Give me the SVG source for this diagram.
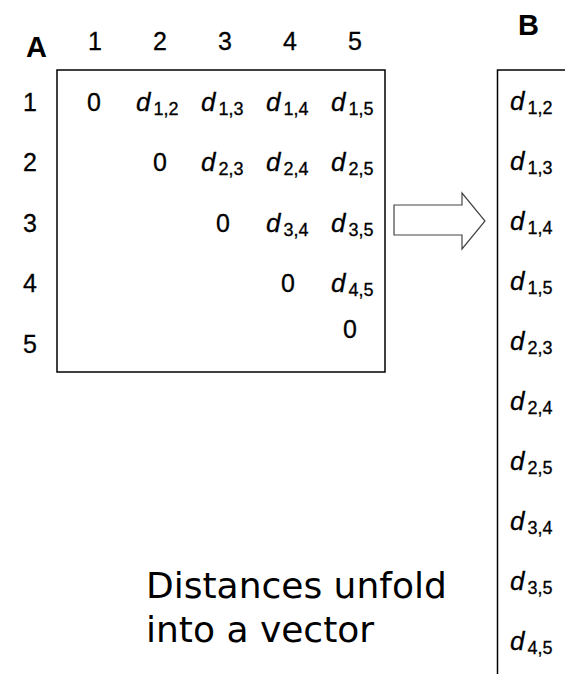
<svg xmlns="http://www.w3.org/2000/svg" width="565" height="674" viewBox="0 0 565 674">
<style>
.bg{fill:#fff}
.box{fill:none;stroke:#000;stroke-width:1.5}
.lbl{font-family:"Liberation Sans",Arial,sans-serif;font-size:25px;fill:#000;stroke:#000;stroke-width:0.3;text-anchor:middle}
.hd{font-family:"Liberation Sans",Arial,sans-serif;font-size:29px;font-weight:bold;fill:#000}
.d{font-family:"Liberation Sans",Arial,sans-serif;font-size:26px;fill:#000;stroke:#000;stroke-width:0.3}
.d .v{font-style:italic}
.d .s{font-size:18px}
.cap{font-family:"DejaVu Sans",Verdana,sans-serif;font-size:36px;fill:#000}
.arrow{fill:#fff;stroke:#444;stroke-width:1.2}
</style>
<rect class="bg" width="565" height="674"/>
<g id="matrixA">
<text class="hd" x="26" y="57">A</text>
<g class="lbl">
<text x="95" y="50">1</text><text x="160" y="50">2</text><text x="225" y="50">3</text><text x="290" y="50">4</text><text x="355" y="50">5</text>
<text x="30" y="111">1</text><text x="30" y="171">2</text><text x="30" y="232">3</text><text x="30" y="292">4</text><text x="30" y="353">5</text>
<text x="94" y="111">0</text><text x="160" y="171">0</text><text x="223" y="232">0</text><text x="288" y="292">0</text><text x="350" y="338">0</text>
</g>
<rect class="box" x="57" y="70" width="328" height="302"/>
<g class="d">
<text x="136" y="111"><tspan class="v">d</tspan><tspan class="s" dx="3" dy="4">1,2</tspan></text>
<text x="201" y="111"><tspan class="v">d</tspan><tspan class="s" dx="3" dy="4">1,3</tspan></text>
<text x="266" y="111"><tspan class="v">d</tspan><tspan class="s" dx="3" dy="4">1,4</tspan></text>
<text x="331" y="111"><tspan class="v">d</tspan><tspan class="s" dx="3" dy="4">1,5</tspan></text>
<text x="201" y="171"><tspan class="v">d</tspan><tspan class="s" dx="3" dy="4">2,3</tspan></text>
<text x="266" y="171"><tspan class="v">d</tspan><tspan class="s" dx="3" dy="4">2,4</tspan></text>
<text x="331" y="171"><tspan class="v">d</tspan><tspan class="s" dx="3" dy="4">2,5</tspan></text>
<text x="266" y="232"><tspan class="v">d</tspan><tspan class="s" dx="3" dy="4">3,4</tspan></text>
<text x="331" y="232"><tspan class="v">d</tspan><tspan class="s" dx="3" dy="4">3,5</tspan></text>
<text x="331" y="292"><tspan class="v">d</tspan><tspan class="s" dx="3" dy="4">4,5</tspan></text>
</g>
</g>
<g id="arrow">
<path class="arrow" d="M394,205 H462 V193 L485,221 L462,249 V235 H394 Z"/>
</g>
<g id="vectorB">
<text class="hd" x="518" y="35">B</text>
<path class="box" d="M565,70 H497.5 V674"/>
<g class="d">
<text x="510" y="110"><tspan class="v">d</tspan><tspan class="s" dx="3" dy="4">1,2</tspan></text>
<text x="510" y="170"><tspan class="v">d</tspan><tspan class="s" dx="3" dy="4">1,3</tspan></text>
<text x="510" y="230"><tspan class="v">d</tspan><tspan class="s" dx="3" dy="4">1,4</tspan></text>
<text x="510" y="290"><tspan class="v">d</tspan><tspan class="s" dx="3" dy="4">1,5</tspan></text>
<text x="510" y="350"><tspan class="v">d</tspan><tspan class="s" dx="3" dy="4">2,3</tspan></text>
<text x="510" y="410"><tspan class="v">d</tspan><tspan class="s" dx="3" dy="4">2,4</tspan></text>
<text x="510" y="470"><tspan class="v">d</tspan><tspan class="s" dx="3" dy="4">2,5</tspan></text>
<text x="510" y="530"><tspan class="v">d</tspan><tspan class="s" dx="3" dy="4">3,4</tspan></text>
<text x="510" y="590"><tspan class="v">d</tspan><tspan class="s" dx="3" dy="4">3,5</tspan></text>
<text x="510" y="650"><tspan class="v">d</tspan><tspan class="s" dx="3" dy="4">4,5</tspan></text>
</g>
</g>
<g id="caption">
<text class="cap" x="146" y="598">Distances unfold</text>
<text class="cap" x="146" y="642">into a vector</text>
</g>
</svg>
